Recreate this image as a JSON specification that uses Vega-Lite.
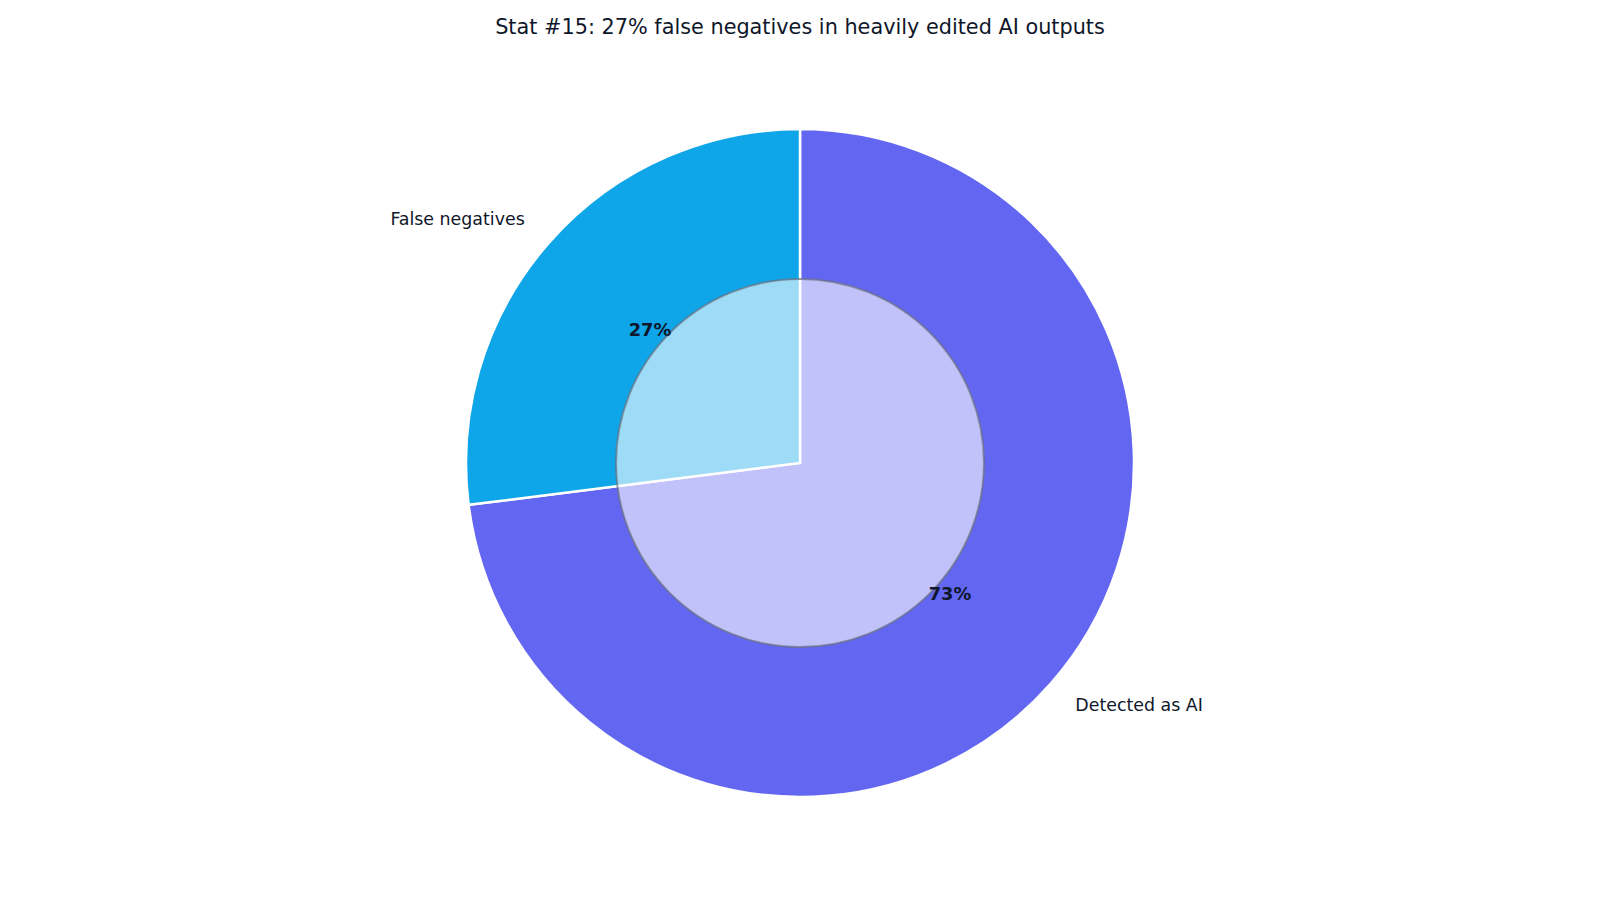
{
  "$schema": "https://vega.github.io/schema/vega-lite/v6.json",
  "autosize": "none",
  "width": 1600,
  "height": 808,
  "padding": {"top": 59, "left": 0, "right": 0, "bottom": 33},
  "background": "white",
  "config": {"view": {"stroke": null}, "font": "DejaVu Sans"},
  "title": {
    "text": "Stat #15: 27% false negatives in heavily edited AI outputs",
    "font": "DejaVu Sans",
    "fontSize": 20.8,
    "fontWeight": "normal",
    "color": "#0f172a",
    "anchor": "middle",
    "offset": 20
  },
  "layer": [
    {
      "data": {"values": [
        {"label": "Detected as AI", "value": 73, "pct": "73%", "order": 1},
        {"label": "False negatives", "value": 27, "pct": "27%", "order": 2}
      ]},
      "encoding": {
        "theta": {"field": "value", "type": "quantitative", "stack": true},
        "order": {"field": "order", "type": "quantitative"},
        "color": {
          "field": "label", "type": "nominal",
          "scale": {"domain": ["Detected as AI", "False negatives"], "range": ["#6366f1", "#0ea5e9"]},
          "legend": null
        }
      },
      "layer": [
        {"mark": {"type": "arc", "radius": 334, "stroke": "white", "strokeWidth": 2.5}},
        {
          "mark": {
            "type": "text", "radius": 367, "fontSize": 17.4, "color": "#0f172a",
            "align": {"expr": "datum.label == 'False negatives' ? 'right' : 'left'"},
            "baseline": "middle"
          },
          "encoding": {"text": {"field": "label"}, "color": {"value": "#0f172a"}}
        }
      ]
    },
    {
      "data": {"values": [{"shape": "center"}]},
      "mark": {
        "type": "arc", "theta": 0, "theta2": 6.2832, "radius": 184,
        "fill": "white", "fillOpacity": 0.6, "stroke": "#6b7280", "strokeWidth": 2, "strokeOpacity": 0.7
      },
      "encoding": {}
    },
    {
      "data": {"values": [
        {"label": "Detected as AI", "value": 73, "pct": "73%", "order": 1},
        {"label": "False negatives", "value": 27, "pct": "27%", "order": 2}
      ]},
      "mark": {"type": "text", "radius": 200, "fontSize": 17.8, "fontWeight": "bold", "color": "#0f172a", "align": "center", "baseline": "middle"},
      "encoding": {
        "theta": {"field": "value", "type": "quantitative", "stack": true},
        "order": {"field": "order", "type": "quantitative"},
        "text": {"field": "pct"}
      }
    }
  ]
}
